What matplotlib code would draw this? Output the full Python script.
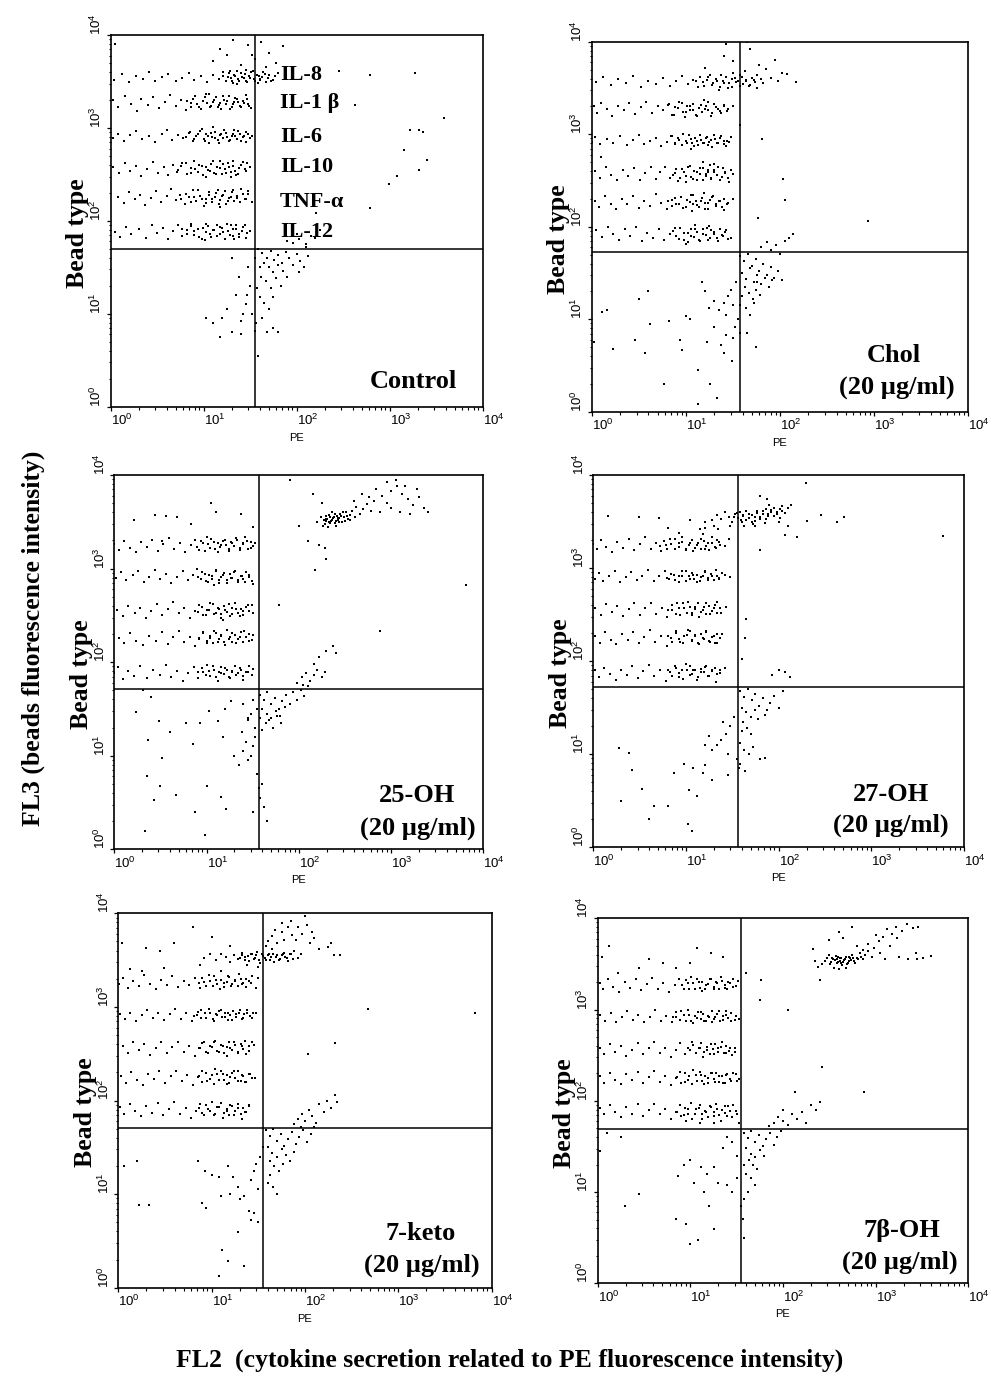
import numpy as np
import matplotlib
matplotlib.use("Agg")
import matplotlib.pyplot as plt
from matplotlib.ticker import LogLocator, FuncFormatter, NullFormatter

# ---------------------------------------------------------------------------
# Data: events, as (PE, bead-type) pairs,
# each coordinate written as log10(value) x 100.
# ---------------------------------------------------------------------------
CONTROL = [
    # IL-8 band
    4,352, 12,358, 20,349, 27,356, 35,353, 41,360, 48,351, 55,355, 62,358, 70,350, 77,354, 84,359,
    90,352, 97,356, 104,349, 110,357, 116,353, 121,360, 126,355, 130,350, 133,357, 137,353, 140,359,
    143,354, 146,351, 149,356, 151,360, 154,353, 157,357, 160,352, 163,355, 166,358, 169,354, 172,351,
    136,347, 145,362, 128,361, 158,348,
    121,356, 124,351, 127,359, 129,354, 131,348, 134,356, 136,361, 138,351, 141,355, 144,358, 147,349,
    150,354, 153,361, 155,350, 159,356, 161,353, 164,360, 167,349, 170,357, 174,352, 177,356, 180,359,
    110,372, 118,385, 125,378, 132,395, 140,368, 148,389, 155,374, 162,392, 170,381, 178,370, 185,388,
    152,378, 167,366,
    # IL-1 beta band
    3,330, 8,322, 15,334, 22,326, 28,318, 33,331, 40,325, 46,333, 52,321, 58,328, 64,335, 70,324,
    76,330, 81,319, 86,327, 91,334, 95,323, 99,329, 103,336, 107,322, 110,328, 113,333, 116,325,
    119,320, 122,330, 124,326, 127,334, 130,322, 133,328, 136,331, 139,324, 142,329, 145,335, 148,326,
    151,321,
    82,329, 86,323, 89,331, 93,326, 97,320, 101,333, 104,327, 108,324, 111,330, 115,322, 118,327,
    121,334, 125,329, 128,320, 131,326, 134,332, 137,328, 140,322, 143,327, 147,331, 149,324, 106,336,
    # IL-6 band
    2,289, 8,294, 14,286, 21,292, 27,297, 34,288, 41,291, 48,285, 55,293, 60,298, 66,287, 72,292,
    78,289, 84,295, 88,286, 92,291, 96,297, 100,288, 103,293, 106,284, 109,290, 112,296, 115,287,
    118,292, 121,289, 124,295, 127,286, 130,291, 133,298, 136,288, 139,293, 142,290, 145,285, 148,294,
    152,291,
    81,290, 85,296, 90,288, 94,293, 98,299, 101,286, 105,291, 108,295, 112,289, 116,284, 119,293,
    122,298, 125,290, 128,287, 131,294, 134,291, 137,297, 140,286, 143,291, 146,296, 150,289, 110,301,
    # IL-10 band
    3,258, 9,251, 15,262, 21,254, 27,259, 33,248, 39,256, 45,263, 51,252, 57,258, 62,249, 67,260,
    72,255, 77,262, 82,250, 86,257, 90,264, 94,253, 98,259, 102,247, 105,255, 108,261, 111,252,
    114,258, 117,264, 120,250, 123,256, 126,262, 129,253, 132,259, 135,249, 138,257, 142,263, 146,254,
    150,258,
    71,253, 76,259, 81,262, 86,251, 91,256, 95,260, 99,249, 103,258, 107,254, 110,264, 113,250,
    117,257, 121,261, 124,252, 127,258, 131,264, 134,254, 137,250, 140,260, 144,256, 147,262, 129,247,
    # TNF-alpha band
    8,226, 14,219, 20,231, 26,223, 31,228, 37,217, 43,225, 49,232, 54,220, 60,227, 65,234, 70,222,
    75,228, 80,218, 84,226, 88,233, 92,221, 96,227, 100,216, 103,224, 106,231, 109,220, 112,226,
    115,233, 118,222, 121,228, 124,218, 127,225, 130,231, 133,221, 136,227, 140,234, 144,223, 148,229,
    152,220,
    76,223, 81,229, 86,220, 90,226, 94,233, 98,224, 102,219, 106,228, 109,223, 113,230, 116,218,
    120,227, 123,232, 126,221, 129,226, 132,233, 136,225, 139,220, 142,229, 145,224, 148,232, 118,215,
    # IL-12 band
    5,188, 10,183, 16,193, 22,186, 30,191, 38,182, 44,195, 50,187, 56,192, 62,181, 67,189, 72,196,
    77,184, 82,190, 86,197, 90,185, 94,191, 98,180, 102,188, 105,194, 108,183, 111,190, 114,196,
    117,186, 120,192, 123,181, 126,189, 129,195, 132,184, 135,191, 138,186, 142,193, 146,182, 150,189,
    77,191, 82,186, 86,194, 90,189, 95,183, 99,192, 103,197, 107,186, 110,190, 114,184, 118,193,
    121,188, 125,197, 128,185, 131,191, 135,195, 138,183, 141,189, 144,196, 147,187, 101,179, 133,180,
    196,176, 203,180, 210,172, 215,184, 200,186, 190,178,
    # low-signal population
    158,170, 163,165, 168,160, 172,168, 176,158, 180,163, 184,155, 188,166, 192,160, 196,152, 200,164,
    204,157, 208,150, 212,162, 165,155, 170,150, 175,145, 180,152, 185,146, 190,140, 160,150, 162,140,
    167,135, 172,128, 178,138, 183,130, 157,128, 160,118, 165,112, 170,105, 175,118, 150,130, 147,120,
    145,110, 142,100, 140,92, 152,100, 156,90, 163,95, 168,80, 155,160, 148,150, 138,140, 135,120,
    # scattered events
    125,105, 120,95, 110,90, 130,160, 140,78, 158,55, 155,82, 175,85, 180,80, 202,145, 210,175,
    220,182, 225,190, 279,214, 299,240, 308,248, 315,276, 322,298, 332,298, 336,296, 340,265, 331,255,
    358,311, 327,359, 279,357, 263,325, 245,361, 221,208, 240,220, 103,95, 118,75, 130,80, 5,390,
]

CHOL = [
    # IL-8 band
    5,356, 12,362, 20,353, 28,360, 36,355, 44,363, 52,351, 60,358, 68,354, 76,361, 83,352, 90,357,
    96,363, 102,354, 108,359, 113,351, 118,356, 123,362, 128,353, 133,358, 137,364, 141,355, 145,350,
    149,360, 153,356, 157,352, 160,362, 164,357, 168,353, 172,359, 176,364, 182,355, 190,361, 198,357,
    207,365, 217,356, 135,348, 150,366,
    111,357, 115,362, 119,352, 122,359, 126,364, 129,355, 132,360, 136,351, 139,358, 143,362, 146,355,
    149,351, 152,361, 155,357, 158,364, 161,354, 164,359, 167,352, 170,361, 173,356, 176,350, 180,360,
    120,372, 140,385, 150,379, 163,368, 168,392, 178,375, 185,370, 195,380, 202,366, 143,397, 165,400,
    # IL-1 beta band
    2,330, 6,323, 10,334, 16,327, 22,320, 28,331, 34,326, 40,334, 46,322, 52,329, 58,335, 64,323,
    70,330, 76,326, 82,333, 87,321, 92,328, 96,334, 100,324, 104,330, 108,326, 112,320, 116,332,
    120,327, 124,335, 128,323, 132,329, 136,325, 140,332, 145,327, 150,331,
    76,326, 81,332, 85,321, 89,329, 93,335, 97,324, 101,330, 104,326, 108,333, 111,321, 114,328,
    117,324, 121,331, 124,326, 127,320, 130,333, 134,327, 137,323, 141,330, 144,325, 99,319, 119,337,
    # IL-6 band
    0,292, 4,297, 9,289, 16,295, 23,290, 30,298, 37,288, 44,294, 50,299, 56,289, 62,293, 68,296,
    74,287, 80,292, 85,298, 89,289, 93,294, 97,300, 101,290, 105,295, 109,287, 112,293, 115,299,
    118,291, 121,296, 124,288, 127,294, 130,299, 133,291, 136,296, 140,289, 144,293, 148,297,
    80,292, 84,298, 88,290, 92,296, 96,288, 100,293, 103,299, 107,291, 110,296, 113,288, 116,294,
    119,290, 122,297, 125,292, 128,286, 131,295, 134,290, 137,298, 140,293, 143,287, 146,292, 105,284,
    10,275, 118,270, 130,268,
    # IL-10 band
    3,260, 9,253, 15,264, 21,256, 27,250, 33,261, 39,255, 45,263, 51,251, 57,258, 63,264, 68,252,
    73,259, 78,265, 83,253, 88,258, 92,249, 96,262, 100,255, 104,266, 108,252, 112,259, 115,263,
    118,250, 121,257, 124,261, 127,253, 130,259, 134,264, 138,254, 142,259, 146,248, 150,257,
    86,256, 90,262, 94,253, 98,259, 102,264, 105,254, 109,260, 112,250, 115,257, 118,263, 121,255,
    124,259, 127,252, 130,261, 133,256, 136,250, 139,263, 142,258, 145,253, 148,261, 100,248, 126,267,
    # TNF-alpha band
    3,228, 8,221, 14,233, 20,225, 26,219, 32,230, 38,224, 44,233, 50,220, 56,228, 62,222, 68,235,
    74,226, 80,219, 85,229, 90,224, 95,232, 100,221, 104,227, 108,234, 112,223, 116,228, 120,219,
    124,226, 128,232, 132,222, 136,228, 140,218, 145,226, 150,230,
    81,228, 85,222, 89,231, 93,225, 97,220, 101,229, 105,234, 108,224, 111,228, 114,221, 117,231,
    120,226, 123,219, 126,229, 129,233, 132,224, 135,228, 138,221, 141,230, 144,225, 107,217, 119,236,
    # IL-12 band
    5,196, 11,189, 17,200, 23,192, 29,186, 35,197, 41,190, 47,200, 53,184, 59,193, 65,188, 71,198,
    77,186, 83,192, 88,199, 93,187, 98,193, 102,183, 106,190, 110,197, 114,186, 118,192, 122,199,
    126,188, 130,194, 134,184, 138,191, 143,196, 148,188,
    86,195, 90,190, 94,199, 98,186, 102,193, 106,198, 109,189, 112,194, 115,185, 118,197, 121,191,
    124,186, 127,196, 130,192, 133,188, 136,198, 139,190, 142,194, 145,187, 110,202, 125,201, 100,181,
    # low-signal population
    158,168, 162,163, 166,170, 170,158, 174,165, 178,152, 182,160, 186,148, 190,156, 194,145, 198,152,
    202,142, 160,150, 164,144, 168,155, 172,140, 176,148, 180,138, 184,145, 188,135, 192,142, 163,135,
    167,128, 171,122, 175,132, 179,126, 160,125, 158,115, 164,112, 168,105, 172,118, 153,140, 148,132,
    145,125, 140,118, 135,110, 150,115, 143,105, 130,120, 125,112, 120,130, 117,140, 155,100, 152,92,
    157,85, 150,80, 190,175, 196,180, 200,170, 205,185, 210,188, 214,192, 186,183, 180,178,
    # scattered events
    16,110, 50,122, 60,130, 62,95, 82,98, 94,78, 104,100, 130,92, 122,75, 143,83, 149,55, 113,45,
    126,30, 77,30, 133,15, 113,8, 11,108, 2,75, 23,68, 46,78, 57,64, 96,67, 100,104, 140,63, 137,72,
    165,85, 175,70, 176,140, 181,295, 203,252, 205,229, 293,206, 177,209, 158,310,
]

OH25 = [
    # IL-8 beads shifted to high PE
    220,350, 224,355, 228,348, 230,353, 233,357, 235,351, 237,354, 239,349, 241,356, 243,352, 245,358,
    247,350, 249,355, 251,360, 253,353, 255,357, 258,362, 261,355, 226,346, 232,344, 240,346, 248,360,
    236,360, 262,366, 266,358, 270,364, 274,369, 278,361, 282,372, 229,351, 234,349, 244,354, 250,351,
    231,353, 233,350, 236,352, 238,355, 240,351, 242,354, 234,355, 239,358, 244,350, 246,356, 229,356,
    252,356, 256,352, 227,352,
    260,372, 268,380, 276,376, 284,385, 290,378, 296,370, 300,383, 306,388, 312,380, 318,374, 324,368,
    330,377, 336,365, 328,385, 300,365, 288,360, 310,360, 320,358, 340,360, 305,395, 296,393, 315,388,
    215,380, 225,370, 200,345, 210,330, 222,325, 230,310, 190,395,
    # IL-1 beta band
    0,326, 5,320, 10,330, 17,322, 23,318, 29,328, 35,323, 41,331, 47,319, 53,326, 59,333, 65,321,
    71,327, 77,318, 83,325, 88,331, 92,320, 96,327, 100,334, 104,322, 108,328, 112,318, 116,325,
    120,331, 124,321, 128,327, 132,333, 136,320, 140,326, 144,330, 148,322, 152,327,
    90,323, 94,329, 98,319, 102,326, 105,332, 109,321, 112,327, 115,323, 118,330, 121,325, 124,319,
    127,328, 130,324, 133,331, 136,322, 139,327, 142,334, 145,321, 148,328, 150,324,
    21,352, 44,357, 56,356, 68,355, 83,348, 105,370, 110,360, 137,358, 150,344, 52,330,
    # IL-6 band
    2,290, 7,296, 13,288, 20,293, 26,297, 32,286, 38,291, 44,298, 50,289, 56,294, 62,285, 68,291,
    74,297, 80,288, 85,293, 90,300, 94,289, 98,294, 102,286, 106,292, 110,298, 114,288, 118,293,
    122,285, 126,290, 130,296, 134,288, 138,292, 142,286, 146,293, 150,283,
    91,291, 95,296, 99,287, 103,293, 106,289, 110,297, 113,285, 116,291, 119,295, 122,288, 125,294,
    128,290, 131,297, 134,286, 137,292, 140,289, 143,296, 146,291, 149,287, 108,282,
    # IL-10 band
    3,256, 9,249, 15,260, 22,252, 28,258, 34,247, 40,255, 46,262, 52,250, 58,257, 64,264, 70,252,
    76,258, 82,247, 87,255, 92,261, 96,250, 100,256, 104,263, 108,251, 112,258, 116,247, 120,256,
    124,262, 128,251, 132,257, 136,249, 140,255, 145,261, 150,252,
    91,254, 95,259, 99,250, 103,256, 107,262, 110,252, 113,257, 116,251, 119,260, 122,254, 125,249,
    128,258, 131,263, 134,253, 137,257, 140,250, 143,259, 146,255, 149,261, 118,245,
    # TNF-alpha band
    5,226, 10,220, 17,231, 24,223, 31,218, 38,228, 45,223, 52,232, 58,219, 64,227, 70,233, 76,221,
    82,227, 87,217, 92,225, 96,231, 100,220, 104,226, 108,233, 112,221, 116,228, 120,218, 124,225,
    128,231, 132,220, 136,227, 141,233, 146,223, 150,229,
    92,226, 96,232, 100,223, 104,228, 107,220, 110,231, 113,225, 116,229, 119,222, 122,234, 125,227,
    128,222, 131,229, 134,225, 137,232, 140,221, 143,227, 146,230, 149,224,
    # IL-12 band
    0,188, 4,195, 9,182, 15,191, 21,185, 28,196, 35,183, 42,192, 49,186, 56,197, 62,184, 68,191,
    74,180, 80,188, 86,195, 91,183, 96,190, 100,197, 104,185, 108,192, 112,180, 116,188, 120,194,
    124,184, 128,191, 132,186, 136,194, 140,181, 145,189, 150,193,
    91,189, 95,194, 99,186, 103,191, 107,196, 110,184, 113,190, 116,195, 119,187, 122,192, 125,183,
    128,189, 131,196, 134,188, 137,192, 140,185, 143,190, 146,196, 149,186,
    # low-signal population
    158,165, 162,160, 166,168, 170,155, 174,162, 178,150, 182,158, 186,165, 190,155, 194,168, 198,160,
    202,170, 206,164, 210,174, 160,150, 165,145, 170,140, 175,148, 180,142, 185,152, 164,135, 168,138,
    172,130, 176,142, 181,135, 158,140, 160,128, 155,150, 150,160, 148,145, 145,138, 152,130, 140,155,
    138,125, 198,178, 204,184, 208,188, 212,180, 216,186, 220,192, 225,184, 228,190, 216,198, 222,205,
    230,212, 237,217, 240,210, 205,176,
    150,110, 148,100, 145,95, 143,115, 152,120, 140,105, 135,90, 130,100, 155,80, 157,65, 160,70,
    158,55, 162,45, 150,40, 165,30,
    # scattered events
    24,147, 31,170, 40,163, 48,137, 60,125, 78,135, 85,112, 93,135, 103,148, 112,137, 118,120, 120,150,
    127,158, 35,78, 50,68, 52,98, 37,117, 67,58, 100,68, 116,56, 121,43, 98,15, 88,40, 33,20, 43,53,
    145,140, 381,282, 288,233, 178,261, 218,299, 228,322,
]

OH27 = [
    # IL-8 band
    128,352, 133,357, 138,353, 142,360, 146,355, 150,350, 153,358, 156,354, 158,360, 160,349, 162,356,
    165,352, 168,358, 171,350, 174,355, 177,361, 180,353, 183,358, 186,363, 189,356, 192,360, 195,365,
    198,358, 201,363, 204,367, 207,359, 210,365, 213,368, 148,345, 163,345, 172,347, 185,348, 190,368,
    152,355, 155,359, 159,352, 162,357, 165,361, 168,354, 171,357, 174,351, 177,359, 180,355, 183,361,
    186,353, 189,358, 192,362, 195,356, 198,360, 201,354, 204,361,
    135,342, 120,350, 115,342, 180,377, 175,345, 200,350, 210,345,
    230,391, 187,374, 246,357, 270,355, 377,334, 180,319, 220,333, 231,351, 207,335, 263,350,
    # IL-1 beta band
    0,326, 4,320, 8,330, 14,323, 20,317, 26,328, 32,322, 38,331, 44,319, 50,326, 56,333, 62,321,
    68,327, 73,318, 78,325, 83,331, 88,320, 92,327, 96,333, 100,321, 104,327, 108,318, 112,325,
    116,331, 120,321, 124,327, 128,333, 132,322, 136,328, 142,324, 146,331,
    72,324, 76,329, 80,320, 84,326, 88,331, 92,323, 96,328, 100,319, 103,325, 107,330, 110,322,
    113,327, 116,321, 119,329, 122,324, 125,319, 128,327, 131,323, 134,330, 137,325,
    16,356, 49,355, 71,354, 81,343, 93,338, 104,352, 120,343, 130,345, 118,337,
    # IL-6 band
    2,288, 6,295, 11,286, 17,292, 23,297, 29,285, 35,290, 41,296, 47,287, 53,292, 59,298, 65,286,
    71,291, 77,297, 82,288, 87,293, 92,285, 96,291, 100,297, 104,288, 108,293, 112,285, 116,290,
    120,296, 124,287, 128,292, 132,298, 136,288, 142,293, 148,290,
    80,289, 84,294, 88,287, 92,292, 96,297, 100,286, 103,291, 106,295, 109,288, 112,293, 115,286,
    118,291, 121,297, 124,289, 127,294, 130,287, 133,292, 136,289, 139,295,
    # IL-10 band
    2,257, 8,250, 14,261, 20,253, 26,259, 32,248, 38,256, 44,262, 50,250, 56,257, 62,263, 68,251,
    74,257, 80,247, 85,255, 90,262, 94,250, 98,257, 102,264, 106,252, 110,258, 114,247, 118,255,
    122,262, 126,251, 130,257, 134,264, 138,252, 143,258,
    81,255, 85,260, 89,251, 93,257, 97,262, 101,252, 104,258, 107,250, 110,256, 113,262, 116,253,
    119,258, 122,251, 125,259, 128,254, 131,260, 134,252, 137,257,
    # TNF-alpha band
    2,227, 7,220, 13,231, 19,223, 25,218, 31,229, 37,223, 43,231, 49,219, 55,226, 61,233, 67,221,
    73,227, 79,216, 84,225, 89,232, 94,221, 98,227, 102,234, 106,222, 110,228, 114,218, 118,225,
    122,232, 126,221, 130,227, 134,220, 139,229,
    81,227, 85,221, 89,230, 93,224, 97,219, 101,228, 104,232, 107,223, 110,227, 113,220, 116,229,
    119,224, 122,231, 125,222, 128,226, 131,220, 134,229, 137,225,
    # IL-12 band
    2,190, 6,183, 12,193, 18,186, 24,180, 30,191, 36,185, 42,195, 48,182, 54,189, 60,196, 66,184,
    72,190, 78,179, 83,188, 88,195, 92,183, 96,190, 100,197, 104,185, 108,191, 112,180, 116,188,
    120,194, 124,184, 128,191, 132,178, 137,187, 142,193,
    81,190, 85,184, 89,193, 93,187, 97,181, 101,191, 104,195, 107,186, 110,190, 113,183, 116,192,
    119,188, 122,195, 125,184, 128,189, 131,193, 134,186, 137,191,
    193,185, 200,190, 207,188, 212,183,
    # low-signal population
    158,168, 163,162, 167,170, 171,158, 175,165, 179,152, 183,160, 187,147, 191,155, 195,163, 200,150,
    205,168, 160,150, 165,145, 170,140, 174,148, 178,138, 185,142, 162,135, 166,128, 170,122, 160,125,
    158,112, 163,105, 168,100, 152,140, 148,130, 143,122, 138,115, 133,110, 128,105, 140,135, 125,120,
    120,110, 155,95, 157,85, 145,100,
    # scattered events
    28,107, 38,101, 42,83, 87,80, 53,63, 65,44, 81,44, 102,25, 106,18, 121,88, 145,78, 158,90,
    164,82, 172,108, 180,95, 185,96, 98,90, 108,85, 118,80, 128,72, 112,55, 103,62, 60,30, 30,50,
    165,245, 164,225, 160,202,
]

KETO7 = [
    # IL-8 band
    92,352, 98,356, 105,350, 110,357, 115,353, 120,348, 124,355, 128,351, 132,358, 136,353, 140,349,
    143,356, 146,352, 149,359, 152,347, 155,354, 158,350, 161,357, 164,353, 167,348, 170,355, 173,351,
    176,357, 179,353, 182,349, 185,356, 188,360, 192,352, 196,357, 138,345, 150,343, 165,362, 158,365,
    130,352, 133,355, 136,350, 139,354, 142,357, 145,351, 148,355, 151,350, 154,356, 157,352, 160,355,
    163,350, 166,357, 169,353, 172,350, 175,355, 178,358, 181,352, 184,356, 187,351,
    160,370, 165,376, 170,368, 175,380, 178,372, 182,385, 186,377, 190,371, 193,385, 197,378, 202,388,
    207,380, 210,374, 185,392, 200,397, 175,390, 168,382, 205,368, 215,362, 228,368, 238,355,
    4,368, 30,363, 45,360, 60,368, 80,385, 100,375, 120,365,
    # IL-1 beta band
    1,325, 5,331, 10,320, 16,328, 22,322, 28,334, 34,325, 40,319, 46,329, 52,323, 58,333, 64,321,
    70,328, 76,323, 82,331, 87,320, 92,327, 97,334, 101,322, 105,329, 109,319, 113,326, 117,333,
    121,322, 125,328, 129,335, 133,324, 137,330, 142,326, 147,320, 150,331,
    86,326, 90,331, 94,322, 98,328, 102,333, 106,324, 110,329, 113,321, 116,327, 119,332, 122,324,
    125,329, 128,322, 131,330, 134,326, 137,321, 140,328, 143,333,
    12,340, 25,338, 49,342, 88,345, 110,338,
    # IL-6 band
    2,292, 7,287, 13,294, 19,285, 25,291, 31,297, 37,288, 43,293, 49,286, 55,292, 61,298, 67,287,
    73,293, 79,285, 84,291, 89,297, 94,288, 98,294, 102,285, 106,291, 110,297, 114,289, 118,293,
    122,286, 126,292, 130,297, 134,288, 138,293, 143,288, 148,294,
    81,290, 85,295, 89,288, 93,293, 97,298, 101,287, 105,292, 108,296, 111,289, 114,294, 117,286,
    120,291, 123,296, 126,289, 129,293, 132,287, 135,292, 138,297, 141,290, 144,294,
    # IL-10 band
    5,258, 10,251, 16,262, 22,254, 28,260, 34,249, 40,256, 46,262, 52,251, 58,257, 64,263, 70,252,
    76,258, 82,248, 87,256, 92,263, 96,251, 100,257, 104,264, 108,252, 112,258, 116,248, 120,256,
    124,262, 128,251, 132,258, 136,264, 140,253, 145,259,
    86,256, 90,261, 94,252, 98,258, 102,263, 106,253, 110,259, 113,251, 116,257, 119,262, 122,254,
    125,259, 128,252, 131,260, 134,255, 137,250, 140,258, 143,262,
    # TNF-alpha band
    3,226, 8,219, 14,230, 20,222, 26,217, 32,228, 38,223, 44,231, 50,219, 56,226, 62,232, 68,221,
    74,227, 80,217, 85,225, 90,232, 95,221, 100,227, 104,234, 108,222, 112,228, 116,218, 120,225,
    124,231, 128,221, 132,227, 136,220, 141,228, 146,224,
    86,226, 90,220, 94,229, 98,223, 102,218, 106,228, 110,231, 113,222, 116,227, 119,219, 122,229,
    125,224, 128,231, 131,221, 134,226, 137,220, 140,228, 143,224,
    # IL-12 band
    2,193, 6,186, 12,196, 18,189, 24,183, 30,194, 36,187, 42,197, 48,184, 54,191, 60,198, 66,186,
    72,192, 78,181, 83,189, 88,196, 92,184, 96,191, 100,198, 104,186, 108,193, 112,181, 116,189,
    120,195, 124,185, 128,192, 132,180, 136,188, 140,194,
    86,192, 90,187, 94,195, 98,189, 102,184, 106,193, 110,197, 113,187, 116,191, 119,185, 122,194,
    125,189, 128,196, 131,186, 134,192, 137,188, 140,195,
    # low-signal population
    158,168, 162,162, 166,170, 170,157, 174,164, 178,151, 182,159, 186,166, 190,153, 194,161, 198,168,
    202,156, 206,164, 210,172, 160,150, 165,144, 170,140, 175,148, 180,142, 184,135, 188,145, 162,135,
    167,130, 172,125, 176,132, 163,120, 160,112, 166,108, 170,100, 155,150, 152,140, 148,132, 145,125,
    142,115, 150,105, 188,175, 192,180, 197,186, 200,178, 204,190, 208,183, 212,176, 215,196, 220,188,
    224,200, 228,192, 232,206, 234,198, 196,172,
    85,135, 93,125, 100,120, 108,118, 118,130, 123,118, 128,108, 135,98, 130,95, 140,82, 142,72,
    120,100, 110,98, 94,85, 90,90, 111,40, 108,12, 118,28, 135,23, 128,60, 145,80, 150,70, 6,130,
    20,135, 22,88, 33,88,
    # scattered events
    267,298, 382,293, 232,261, 203,250, 225,364, 231,355,
]

OHB7 = [
    # IL-8 beads shifted to high PE
    245,353, 248,357, 251,350, 254,355, 257,359, 259,352, 262,356, 264,349, 266,354, 268,358, 270,351,
    272,356, 275,360, 277,353, 280,357, 283,362, 286,355, 289,360, 292,364, 255,346, 260,344, 268,346,
    250,360, 242,350, 252,352, 258,355, 263,351, 271,353,
    256,354, 258,351, 261,353, 263,357, 265,352, 267,355, 269,350, 271,358, 273,354, 276,356, 278,351,
    281,355, 259,358, 253,356, 284,358,
    280,370, 286,365, 292,372, 298,368, 304,375, 300,382, 308,380, 312,388, 318,383, 322,391, 328,386,
    334,394, 340,389, 346,391, 323,378, 315,370, 305,362, 296,358, 310,355, 325,358, 335,355,
    260,385, 275,390, 265,378, 250,376, 232,366, 238,347, 240,332, 345,355, 360,359, 344,362, 351,356,
    # IL-1 beta band
    2,329, 6,322, 11,333, 17,325, 23,319, 29,330, 35,324, 41,333, 47,321, 53,328, 59,335, 65,323,
    71,329, 77,319, 83,327, 88,333, 93,322, 97,329, 101,336, 105,323, 109,330, 113,320, 117,327,
    121,333, 125,322, 129,329, 133,336, 137,324, 141,330, 146,325, 151,331,
    91,327, 95,332, 99,323, 103,329, 107,334, 110,324, 113,330, 116,322, 119,328, 122,333, 125,325,
    128,330, 131,323, 134,331, 137,327, 140,322, 143,329, 146,334, 149,326,
    12,370, 5,358, 22,340, 45,345, 55,355, 71,351, 85,345, 100,351, 107,367, 135,358, 122,362,
    # IL-6 band
    3,294, 8,288, 14,296, 20,286, 26,292, 32,298, 38,289, 44,294, 50,286, 56,292, 62,299, 68,288,
    74,293, 80,286, 85,292, 90,298, 95,288, 99,294, 103,285, 107,291, 111,297, 115,288, 119,293,
    123,286, 127,292, 131,298, 135,289, 139,294, 144,287, 149,293, 152,290,
    81,292, 85,297, 89,289, 93,294, 97,299, 101,288, 105,293, 108,297, 111,290, 114,295, 117,287,
    120,292, 123,298, 126,290, 129,295, 132,288, 135,293, 138,298, 141,291, 144,296, 148,289,
    # IL-10 band
    2,258, 7,251, 13,262, 19,254, 25,260, 31,249, 37,256, 43,263, 49,251, 55,258, 61,264, 67,252,
    73,258, 79,248, 84,256, 89,263, 94,251, 98,258, 102,264, 106,252, 110,258, 114,248, 118,256,
    122,262, 126,251, 130,258, 134,264, 138,252, 143,258, 148,254,
    100,256, 103,261, 106,252, 109,258, 112,263, 115,253, 118,259, 121,251, 124,257, 127,262, 130,254,
    133,259, 136,252, 139,260, 142,255, 145,250, 148,258,
    # TNF-alpha band
    2,227, 7,220, 13,231, 19,223, 25,218, 31,229, 37,223, 43,232, 49,219, 55,226, 61,233, 67,221,
    73,227, 79,217, 84,225, 89,232, 94,221, 99,227, 103,234, 107,222, 111,228, 115,218, 119,225,
    123,231, 127,221, 131,227, 135,219, 139,228, 144,222, 149,229, 152,224,
    86,226, 90,220, 94,230, 98,223, 102,218, 106,228, 110,232, 113,222, 116,227, 119,220, 122,230,
    125,224, 128,231, 131,221, 134,227, 137,220, 140,229, 143,224, 146,231, 150,222,
    # IL-12 band
    2,192, 7,185, 13,195, 19,188, 25,182, 31,193, 37,186, 43,196, 49,183, 55,190, 61,197, 67,185,
    73,191, 79,180, 84,188, 89,195, 93,184, 97,191, 101,198, 105,185, 109,192, 113,180, 117,188,
    121,194, 125,183, 129,191, 133,178, 137,187, 141,194, 145,182, 149,189, 152,176, 95,178, 110,176,
    125,176,
    86,188, 90,183, 94,192, 98,186, 102,180, 106,191, 110,195, 113,185, 116,189, 119,182, 122,193,
    125,188, 128,196, 131,184, 134,190, 137,194, 140,183, 143,189, 146,195, 150,185,
    # low-signal population
    158,165, 162,159, 166,167, 170,155, 174,162, 178,150, 182,158, 186,165, 190,152, 194,160, 198,167,
    160,148, 165,142, 170,138, 175,146, 180,140, 163,135, 168,130, 172,125, 158,130, 160,120, 165,115,
    170,108, 162,100, 158,92, 185,172, 190,176, 195,182, 200,178, 205,174, 210,186, 215,180, 220,188,
    225,176, 230,195, 236,190, 240,199, 200,190,
    87,118, 93,130, 100,135, 104,110, 112,128, 118,120, 125,128, 130,110, 135,148, 140,160, 145,155,
    150,140, 115,100, 120,85, 145,100, 140,108, 150,115, 10,165, 2,145, 25,160, 45,98, 30,85, 85,70,
    95,65, 108,48, 100,43, 125,60, 155,85, 157,70, 158,50,
    # scattered events
    213,210, 242,237, 287,210, 205,300, 175,310, 160,340, 176,332, 234,353,
]

PANELS = [CONTROL, CHOL, OH25, OH27, KETO7, OHB7]

# quadrant gates (log10 x 100)
GATE_PE = [155, 158, 157, 156, 155, 155]
GATE_BEAD = [170, 173, 171, 172, 171, 169]

CONDITIONS = ["Control", "Chol", "25-OH", "27-OH", "7-keto", "7β-OH"]
DOSES = ["", "(20 µg/ml)", "(20 µg/ml)", "(20 µg/ml)", "(20 µg/ml)", "(20 µg/ml)"]
CYTOKINES = ["IL-8", "IL-1 β", "IL-6", "IL-10", "TNF-α", "IL-12"]

# ---------------------------------------------------------------------------
W, H = 995, 1380
plt.rcParams["font.family"] = ["Liberation Sans", "DejaVu Sans"]
SERIF = ["Liberation Serif", "DejaVu Serif"]

fig = plt.figure(figsize=(W / 100, H / 100), dpi=100)
fig.patch.set_facecolor("white")


def fx(px):
    return px / W


def fy(py):
    return 1 - py / H


# axes boxes in pixels: left, top, right, bottom
BOXES = [
    (110.7, 35.0, 482.7, 406.7),
    (591.7, 41.7, 968.3, 411.7),
    (114.3, 475.0, 483.3, 849.3),
    (593.3, 475.0, 964.0, 847.3),
    (118.3, 913.3, 491.7, 1287.7),
    (597.7, 918.3, 968.3, 1283.3),
]

# condition label centres (pixels): name, dose
COND_POS = [
    ((413, 382), None),
    ((894, 355), (897, 387)),
    ((417, 796), (418, 828)),
    ((891, 794), (891, 825)),
    ((421, 1234), (422, 1265)),
    ((902, 1230), (900, 1262)),
]


def decade_fmt(v, pos):
    e = int(round(np.log10(v)))
    return r"$\mathregular{10^{%d}}$" % e


for i, (pts, box) in enumerate(zip(PANELS, BOXES)):
    l, t, r, b = box
    ax = fig.add_axes([fx(l), fy(b), fx(r - l), (b - t) / H])
    arr = np.array(pts[: len(pts) // 2 * 2], dtype=float).reshape(-1, 2)
    ax.plot(10 ** (arr[:, 0] / 100), 10 ** (arr[:, 1] / 100), "s", ms=1.6, mew=0,
            color="black", zorder=2)
    ax.set_xscale("log")
    ax.set_yscale("log")
    ax.set_xlim(1, 1e4)
    ax.set_ylim(1, 1e4)
    ax.axvline(10 ** (GATE_PE[i] / 100), color="black", lw=1.1, zorder=3)
    ax.axhline(10 ** (GATE_BEAD[i] / 100), color="black", lw=1.1, zorder=3)
    for s in ax.spines.values():
        s.set_linewidth(1.2)
        s.set_color("black")
    for axis in (ax.xaxis, ax.yaxis):
        axis.set_major_locator(LogLocator(base=10, numticks=10))
        axis.set_minor_locator(LogLocator(base=10, subs=np.arange(2, 10), numticks=10))
        axis.set_major_formatter(FuncFormatter(decade_fmt))
        axis.set_minor_formatter(NullFormatter())
    ax.tick_params(which="major", direction="out", length=3, width=0.9, pad=1.5,
                   labelsize=9.5, colors="black")
    ax.tick_params(which="minor", direction="out", length=1.8, width=0.8)
    ax.tick_params(top=False, right=False)
    for lab in ax.get_xticklabels():
        lab.set_ha("left")
    for lab in ax.get_yticklabels():
        lab.set_rotation(90)
        lab.set_va("bottom")
        lab.set_ha("right")

    # axis labels
    fig.text(fx((l + r) / 2), fy(b + 31), "PE", ha="center", va="center", fontsize=8)
    fig.text(fx(l - 33), fy((t + b) / 2 + 12), "Bead type", rotation=90, ha="center",
             va="center", fontsize=18.5, fontweight="bold", family=SERIF)

    (cx, cy), dose = COND_POS[i]
    fig.text(fx(cx), fy(cy), CONDITIONS[i], ha="center", va="center", fontsize=19,
             fontweight="bold", family=SERIF)
    if dose is not None and DOSES[i]:
        fig.text(fx(dose[0]), fy(dose[1]), DOSES[i], ha="center", va="center",
                 fontsize=19, fontweight="bold", family=SERIF)

# cytokine bead labels in the control panel
CYTO_Y = [75, 103, 137, 167, 202, 232]
for name, yy in zip(CYTOKINES, CYTO_Y):
    fig.text(fx(280), fy(yy), name, ha="left", va="center", fontsize=16,
             fontweight="bold", family=SERIF)

fig.text(fx(33), fy(638), "FL3 (beads fluorescence intensity)", rotation=90,
         ha="center", va="center", fontsize=18.5, fontweight="bold", family=SERIF)
fig.text(fx(510), fy(1360), "FL2  (cytokine secretion related to PE fluorescence intensity)",
         ha="center", va="center", fontsize=18.5, fontweight="bold", family=SERIF)

fig.savefig("out.png", dpi=100, facecolor="white")
